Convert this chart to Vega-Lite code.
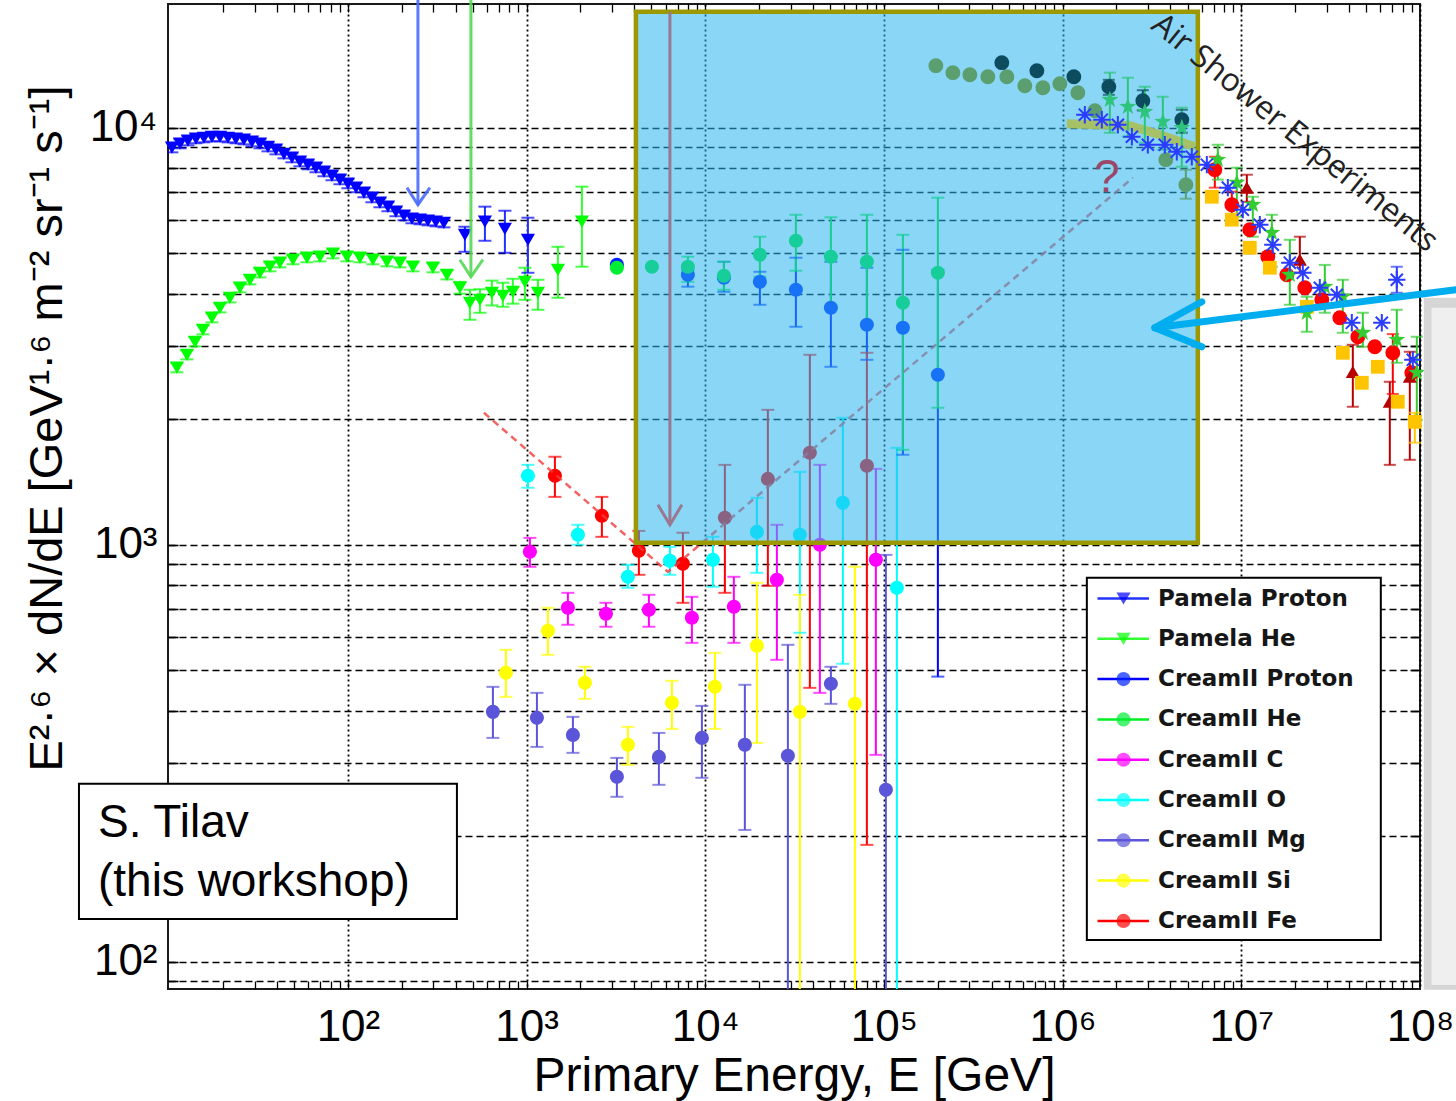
{
"$schema":"https://vega.github.io/schema/vega-lite/v6.json",
"width":1252,"height":985,
"autosize":{"type":"none"},
"padding":{"left":168,"top":4,"right":36,"bottom":112},
"background":"white",
"config":{"view":{"stroke":"#1a1a1a","strokeWidth":2},"font":"Liberation Sans","scale":{"continuousPadding":0}},
"resolve":{"axis":{"x":"independent","y":"independent"}},
"datasets":{
"main":[
{"s":"Pamela Proton","E":10.35,"F":8954,"lo":8730,"hi":9180},
{"s":"Pamela Proton","E":11.48,"F":9155,"lo":8926,"hi":9384},
{"s":"Pamela Proton","E":12.72,"F":9308,"lo":9075,"hi":9541},
{"s":"Pamela Proton","E":14.11,"F":9412,"lo":9177,"hi":9647},
{"s":"Pamela Proton","E":15.64,"F":9462,"lo":9225,"hi":9699},
{"s":"Pamela Proton","E":17.34,"F":9514,"lo":9276,"hi":9752},
{"s":"Pamela Proton","E":19.22,"F":9514,"lo":9276,"hi":9752},
{"s":"Pamela Proton","E":21.31,"F":9462,"lo":9225,"hi":9699},
{"s":"Pamela Proton","E":23.62,"F":9412,"lo":9177,"hi":9647},
{"s":"Pamela Proton","E":26.18,"F":9359,"lo":9125,"hi":9593},
{"s":"Pamela Proton","E":29.03,"F":9256,"lo":9025,"hi":9487},
{"s":"Pamela Proton","E":32.18,"F":9155,"lo":8926,"hi":9384},
{"s":"Pamela Proton","E":35.67,"F":9003,"lo":8778,"hi":9228},
{"s":"Pamela Proton","E":39.55,"F":8856,"lo":8635,"hi":9077},
{"s":"Pamela Proton","E":43.84,"F":8662,"lo":8445,"hi":8879},
{"s":"Pamela Proton","E":48.61,"F":8475,"lo":8263,"hi":8687},
{"s":"Pamela Proton","E":53.88,"F":8290,"lo":8083,"hi":8497},
{"s":"Pamela Proton","E":59.73,"F":8154,"lo":7950,"hi":8358},
{"s":"Pamela Proton","E":66.22,"F":8020,"lo":7820,"hi":8220},
{"s":"Pamela Proton","E":73.41,"F":7846,"lo":7650,"hi":8042},
{"s":"Pamela Proton","E":81.38,"F":7675,"lo":7483,"hi":7867},
{"s":"Pamela Proton","E":90.22,"F":7508,"lo":7320,"hi":7696},
{"s":"Pamela Proton","E":100,"F":7344,"lo":7160,"hi":7528},
{"s":"Pamela Proton","E":110.9,"F":7184,"lo":7004,"hi":7364},
{"s":"Pamela Proton","E":122.9,"F":6988,"lo":6813,"hi":7163},
{"s":"Pamela Proton","E":136.2,"F":6797,"lo":6627,"hi":6967},
{"s":"Pamela Proton","E":151.0,"F":6611,"lo":6446,"hi":6776},
{"s":"Pamela Proton","E":167.4,"F":6468,"lo":6306,"hi":6630},
{"s":"Pamela Proton","E":185.6,"F":6291,"lo":6134,"hi":6448},
{"s":"Pamela Proton","E":205.8,"F":6153,"lo":5999,"hi":6307},
{"s":"Pamela Proton","E":228.1,"F":6052,"lo":5901,"hi":6203},
{"s":"Pamela Proton","E":252.9,"F":6019,"lo":5869,"hi":6169},
{"s":"Pamela Proton","E":280.4,"F":5984,"lo":5834,"hi":6134},
{"s":"Pamela Proton","E":310.8,"F":5951,"lo":5802,"hi":6100},
{"s":"Pamela Proton","E":344.5,"F":5918,"lo":5770,"hi":6066},
{"s":"Pamela Proton","E":451.5,"F":5538,"lo":5042,"hi":5789},
{"s":"Pamela Proton","E":584.4,"F":5951,"lo":5358,"hi":6468},
{"s":"Pamela Proton","E":756.0,"F":5725,"lo":5014,"hi":6324},
{"s":"Pamela Proton","E":1017,"F":5387,"lo":4490,"hi":6085},
{"s":"Pamela He","E":11.04,"F":2658,"lo":2592,"hi":2724},
{"s":"Pamela He","E":12.56,"F":2855,"lo":2784,"hi":2926},
{"s":"Pamela He","E":13.93,"F":3068,"lo":2991,"hi":3145},
{"s":"Pamela He","E":15.44,"F":3278,"lo":3196,"hi":3360},
{"s":"Pamela He","E":17.34,"F":3503,"lo":3415,"hi":3591},
{"s":"Pamela He","E":19.22,"F":3701,"lo":3608,"hi":3794},
{"s":"Pamela He","E":21.86,"F":3911,"lo":3813,"hi":4009},
{"s":"Pamela He","E":24.87,"F":4134,"lo":4031,"hi":4237},
{"s":"Pamela He","E":28.29,"F":4320,"lo":4212,"hi":4428},
{"s":"Pamela He","E":32.18,"F":4490,"lo":4378,"hi":4602},
{"s":"Pamela He","E":36.60,"F":4642,"lo":4526,"hi":4758},
{"s":"Pamela He","E":41.64,"F":4746,"lo":4627,"hi":4865},
{"s":"Pamela He","E":49.24,"F":4826,"lo":4705,"hi":4947},
{"s":"Pamela He","E":58.97,"F":4879,"lo":4757,"hi":5001},
{"s":"Pamela He","E":69.72,"F":4906,"lo":4783,"hi":5029},
{"s":"Pamela He","E":82.43,"F":4988,"lo":4863,"hi":5113},
{"s":"Pamela He","E":98.72,"F":4906,"lo":4783,"hi":5029},
{"s":"Pamela He","E":116.7,"F":4879,"lo":4757,"hi":5001},
{"s":"Pamela He","E":138.0,"F":4826,"lo":4705,"hi":4947},
{"s":"Pamela He","E":165.2,"F":4772,"lo":4653,"hi":4891},
{"s":"Pamela He","E":195.4,"F":4746,"lo":4627,"hi":4865},
{"s":"Pamela He","E":231.1,"F":4642,"lo":4526,"hi":4758},
{"s":"Pamela He","E":299.0,"F":4617,"lo":4502,"hi":4732},
{"s":"Pamela He","E":358.1,"F":4440,"lo":4329,"hi":4551},
{"s":"Pamela He","E":423.5,"F":4134,"lo":4000,"hi":4270},
{"s":"Pamela He","E":481.7,"F":3804,"lo":3464,"hi":4088},
{"s":"Pamela He","E":548.0,"F":3868,"lo":3600,"hi":4100},
{"s":"Pamela He","E":639.4,"F":4021,"lo":3750,"hi":4300},
{"s":"Pamela He","E":736.8,"F":3955,"lo":3722,"hi":4249},
{"s":"Pamela He","E":838.0,"F":4043,"lo":3785,"hi":4344},
{"s":"Pamela He","E":978.3,"F":4272,"lo":3868,"hi":4617},
{"s":"Pamela He","E":1157,"F":4021,"lo":3661,"hi":4320},
{"s":"Pamela He","E":1497,"F":4564,"lo":3911,"hi":5183},
{"s":"Pamela He","E":2040,"F":5951,"lo":4642,"hi":7223},
{"s":"CreamII Proton","E":3201,"F":4694},
{"s":"CreamII Proton","E":7990,"F":4440,"lo":4158,"hi":4564},
{"s":"CreamII Proton","E":12710,"F":4368,"lo":4043,"hi":4772},
{"s":"CreamII Proton","E":20210,"F":4272,"lo":3763,"hi":4515},
{"s":"CreamII Proton","E":32140,"F":4088,"lo":3333,"hi":4879},
{"s":"CreamII Proton","E":50460,"F":3701,"lo":2672,"hi":4772},
{"s":"CreamII Proton","E":80230,"F":3370,"lo":2777,"hi":4617},
{"s":"CreamII Proton","E":127600,"F":3314,"lo":1644,"hi":5098},
{"s":"CreamII Proton","E":200300,"F":2557,"lo":483,"hi":4564},
{"s":"CreamII He","E":3201,"F":4617},
{"s":"CreamII He","E":5026,"F":4642},
{"s":"CreamII He","E":7990,"F":4642,"lo":4272,"hi":4906},
{"s":"CreamII He","E":12710,"F":4416,"lo":4088,"hi":4772},
{"s":"CreamII He","E":20210,"F":4960,"lo":4392,"hi":5479},
{"s":"CreamII He","E":32140,"F":5358,"lo":4541,"hi":6185},
{"s":"CreamII He","E":50460,"F":4906,"lo":3722,"hi":6100},
{"s":"CreamII He","E":80230,"F":4772,"lo":3370,"hi":6185},
{"s":"CreamII He","E":127600,"F":3804,"lo":1690,"hi":5538},
{"s":"CreamII He","E":200300,"F":4490,"lo":2131,"hi":6797},
{"s":"CreamII C","E":1043.5,"F":962.1,"lo":885.7,"hi":1039},
{"s":"CreamII C","E":1702,"F":706.3,"lo":643.1,"hi":767.2},
{"s":"CreamII C","E":2779,"F":683.3,"lo":636.1,"hi":726.0},
{"s":"CreamII C","E":4835,"F":698.5,"lo":636.1,"hi":758.8},
{"s":"CreamII C","E":8414,"F":668.4,"lo":582.1,"hi":750.5},
{"s":"CreamII C","E":14450,"F":710.2,"lo":582.1,"hi":838.1},
{"s":"CreamII C","E":25160,"F":824.3,"lo":530.0,"hi":1117},
{"s":"CreamII C","E":43780,"F":1000,"lo":441.6,"hi":1555},
{"s":"CreamII C","E":90090,"F":920.5,"lo":313.6,"hi":1521},
{"s":"CreamII O","E":1017,"F":1464,"lo":1370,"hi":1555},
{"s":"CreamII O","E":1937,"F":1057,"lo":1000,"hi":1117},
{"s":"CreamII O","E":3689,"F":838.1,"lo":788.7,"hi":895.5},
{"s":"CreamII O","E":6338,"F":915.5,"lo":847.4,"hi":989.0},
{"s":"CreamII O","E":11030,"F":920.5,"lo":793.1,"hi":1045},
{"s":"CreamII O","E":19440,"F":1074,"lo":856.8,"hi":1296},
{"s":"CreamII O","E":33840,"F":1057,"lo":615.4,"hi":1496},
{"s":"CreamII O","E":58880,"F":1261,"lo":518.4,"hi":2016},
{"s":"CreamII O","E":118100,"F":788.7,"lo":50,"hi":1708},
{"s":"CreamII Mg","E":647.7,"F":397.6,"lo":344.4,"hi":456.5},
{"s":"CreamII Mg","E":1142,"F":384.7,"lo":327.7,"hi":441.6},
{"s":"CreamII Mg","E":1816,"F":350.1,"lo":317.1,"hi":386.8},
{"s":"CreamII Mg","E":3201,"F":277.8,"lo":248.8,"hi":308.4},
{"s":"CreamII Mg","E":5500,"F":310.1,"lo":265.8,"hi":354.0},
{"s":"CreamII Mg","E":9572,"F":344.4,"lo":276.3,"hi":411.0},
{"s":"CreamII Mg","E":16650,"F":331.4,"lo":207.2,"hi":461.7},
{"s":"CreamII Mg","E":28990,"F":311.9,"lo":50,"hi":575.7},
{"s":"CreamII Mg","E":50460,"F":464.2,"lo":415.6,"hi":509.9},
{"s":"CreamII Mg","E":102500,"F":258.6,"lo":50,"hi":946},
{"s":"CreamII Si","E":766,"F":493.3,"lo":432.0,"hi":560.0},
{"s":"CreamII Si","E":1316,"F":622.2,"lo":544.7,"hi":706.3},
{"s":"CreamII Si","E":2120,"F":466.8,"lo":427.2,"hi":509.9},
{"s":"CreamII Si","E":3689,"F":331.4,"lo":296.8,"hi":366.1},
{"s":"CreamII Si","E":6504,"F":417.9,"lo":362.0,"hi":472.0},
{"s":"CreamII Si","E":11320,"F":456.5,"lo":362.0,"hi":550.8},
{"s":"CreamII Si","E":19440,"F":572.6,"lo":335.0,"hi":810.8},
{"s":"CreamII Si","E":33840,"F":397.6,"lo":50,"hi":758.8},
{"s":"CreamII Si","E":68740,"F":415.6,"lo":50,"hi":885.7},
{"s":"CreamII Fe","E":1440,"F":1464,"lo":1303,"hi":1626},
{"s":"CreamII Fe","E":2638,"F":1174,"lo":1045,"hi":1303},
{"s":"CreamII Fe","E":4250,"F":967.4,"lo":847.4,"hi":1080},
{"s":"CreamII Fe","E":7494,"F":900.4,"lo":726.0,"hi":1069},
{"s":"CreamII Fe","E":12870,"F":1161,"lo":767.2,"hi":1555},
{"s":"CreamII Fe","E":22400,"F":1439,"lo":797.5,"hi":2107},
{"s":"CreamII Fe","E":38480,"F":1662,"lo":454.0,"hi":2855},
{"s":"CreamII Fe","E":80230,"F":1547,"lo":190.8,"hi":2887}
],
"as":[
{"g":"gc","E":195150,"F":14085},{"g":"gc","E":243020,"F":13550},{"g":"gc","E":302460,"F":13400},
{"g":"gc","E":381440,"F":13253},{"g":"gc","E":487340,"F":13253},{"g":"gc","E":614330,"F":12610},
{"g":"gc","E":775000,"F":12470},{"g":"gc","E":964520,"F":12750},{"g":"gc","E":1216500,"F":12130},
{"g":"gc","E":1514800,"F":10985},{"g":"gc","E":3780500,"F":8382},{"g":"gc","E":4892100,"F":7304,"lo":6757,"hi":7932},
{"g":"dc","E":456680,"F":14320},{"g":"dc","E":717290,"F":13700},{"g":"dc","E":1155400,"F":13253},
{"g":"dc","E":1813400,"F":12540,"lo":11995,"hi":13030},{"g":"dc","E":2810700,"F":11607,"lo":11000,"hi":12300},
{"g":"dc","E":4645000,"F":10452,"lo":9727,"hi":11045},
{"g":"gs","E":1838000,"F":11670,"lo":9727,"hi":13550},{"g":"gs","E":2317000,"F":11230,"lo":9514,"hi":13180},
{"g":"gs","E":2884000,"F":10925,"lo":9204,"hi":12540},{"g":"gs","E":3637000,"F":10337,"lo":8856,"hi":11865},
{"g":"gs","E":4645000,"F":10000,"lo":8064,"hi":11170},
{"g":"gs2","E":7387000,"F":8382,"lo":7508,"hi":9103},{"g":"gs2","E":9437000,"F":7385,"lo":6118,"hi":8020},
{"g":"gs2","E":11597000,"F":6537,"lo":5479,"hi":6832},{"g":"gs2","E":14816000,"F":5601,"lo":4642,"hi":6185},
{"g":"gs2","E":18682000,"F":4440,"lo":3763,"hi":5387},{"g":"gs2","E":23258000,"F":3601,"lo":3242,"hi":3933},
{"g":"gs2","E":29330000,"F":4158,"lo":3601,"hi":4690},{"g":"gs2","E":36983000,"F":3933,"lo":3224,"hi":4320},
{"g":"gs2","E":47856000,"F":3224,"lo":2984,"hi":3601},{"g":"gs2","E":74162000,"F":3102,"lo":2732,"hi":3661},
{"g":"gs2","E":95978000,"F":2585,"lo":1994,"hi":3154},
{"g":"ba","E":1331000,"F":10745},{"g":"ba","E":1657000,"F":10452},{"g":"ba","E":2037000,"F":10167},
{"g":"ba","E":2440000,"F":9514},{"g":"ba","E":2998000,"F":9103},{"g":"ba","E":3732000,"F":9103},
{"g":"ba","E":4355000,"F":8759},{"g":"ba","E":5284000,"F":8521},{"g":"ba","E":6412000,"F":8154},
{"g":"ba","E":8404000,"F":7184},{"g":"ba","E":10195000,"F":6360},{"g":"ba","E":12692000,"F":5853},
{"g":"ba","E":15008000,"F":5241},{"g":"ba","E":18682000,"F":4746},{"g":"ba","E":22091000,"F":4490},
{"g":"ba","E":27497000,"F":4134},{"g":"ba","E":34230000,"F":3977},{"g":"ba","E":41535000,"F":3407},
{"g":"ba","E":61129000,"F":3407},{"g":"ba","E":74162000,"F":4320,"lo":4021,"hi":4642},{"g":"ba","E":91154000,"F":2777},
{"g":"rc","E":7107000,"F":7932,"lo":7184,"hi":8521},{"g":"rc","E":8848000,"F":6537,"lo":6118,"hi":7026},
{"g":"rc","E":11158000,"F":5694},{"g":"rc","E":14071000,"F":4906},{"g":"rc","E":17972000,"F":4440},
{"g":"rc","E":22667000,"F":4134},{"g":"rc","E":28216000,"F":3868},{"g":"rc","E":35580000,"F":3503},
{"g":"rc","E":44875000,"F":3154},{"g":"rc","E":55865000,"F":2984},{"g":"rc","E":70434000,"F":2887,"lo":2300,"hi":3200},
{"g":"rc","E":89985000,"F":2585},
{"g":"rt","E":10735000,"F":7184,"lo":6646,"hi":7715},{"g":"rt","E":21254000,"F":4826,"lo":4490,"hi":5479},
{"g":"rt","E":42073000,"F":2599,"lo":2143,"hi":3017},{"g":"rt","E":67764000,"F":2203,"lo":1555,"hi":2460},
{"g":"rt","E":87696000,"F":2529,"lo":1599,"hi":2903},
{"g":"gq","E":6838000,"F":6832},{"g":"gq","E":8848000,"F":6019},{"g":"gq","E":11158000,"F":5155},
{"g":"gq","E":14439000,"F":4617},{"g":"gq","E":23258000,"F":3722},{"g":"gq","E":36983000,"F":2887},
{"g":"gq","E":47243000,"F":2446},{"g":"gq","E":58070000,"F":2672},{"g":"gq","E":75124000,"F":2203},
{"g":"gq","E":93535000,"F":1972,"lo":1757,"hi":2073}
],
"band":[{"E":1056000,"F":10224},{"E":2377600,"F":10111},{"E":3499500,"F":9620},{"E":5492500,"F":9003}],
"lines":[
{"k":"fit","i":0,"E":576.8,"F":2073},{"k":"fit","i":1,"E":6176,"F":861.6},{"k":"fit","i":2,"E":2471000,"F":7587},
{"k":"fe_shaft","i":0,"E":6338,"F":18975},{"k":"fe_shaft","i":1,"E":6338,"F":1117},
{"k":"fe_head","i":0,"E":5430,"F":1247},{"k":"fe_head","i":1,"E":6338,"F":1117},{"k":"fe_head","i":2,"E":7397,"F":1247},
{"k":"p_shaft","i":0,"E":246.5,"F":20280},{"k":"p_shaft","i":1,"E":246.5,"F":6537},
{"k":"p_head","i":0,"E":213.9,"F":7184},{"k":"p_head","i":1,"E":246.5,"F":6537},{"k":"p_head","i":2,"E":287.6,"F":7184},
{"k":"h_shaft","i":0,"E":487.9,"F":20280},{"k":"h_shaft","i":1,"E":487.9,"F":4392},
{"k":"h_head","i":0,"E":423.3,"F":4826},{"k":"h_head","i":1,"E":487.9,"F":4392},{"k":"h_head","i":2,"E":569.4,"F":4826},
{"k":"c_shaft","i":0,"E":158600000,"F":4088},{"k":"c_shaft","i":1,"E":3280000,"F":3314},
{"k":"c_head","i":0,"E":6010000,"F":3825},{"k":"c_head","i":1,"E":3280000,"F":3314},{"k":"c_head","i":2,"E":6010000,"F":2984}
],
"rects":[
{"k":"box","E":4090,"E2":5710000,"F":1011,"F2":18975},
{"k":"panel1","E":105000000,"E2":170000000,"F":85.7,"F2":3910},
{"k":"panel2","E":116000000,"E2":170000000,"F":88,"F2":3700},
{"k":"tilav","E":3.124,"E2":407.4,"F":126.8,"F2":267.3},
{"k":"legbox","E":1366000,"E2":60350000,"F":112.9,"F2":833.7}
],
"notes":[
{"k":"q","E":1768000,"F":7587,"t":"?"},
{"k":"air","E":19930000,"F":9725,"t":"Air Shower Experiments"},
{"k":"tilav","E":3.99,"F":215.4,"t":"S. Tilav\n(this workshop)"}
]
},
"layer":[
{"data":{"name":"main"},"transform":[{"filter":"isValid(datum.lo)"}],
 "mark":{"type":"rule","strokeWidth":2,"clip":true},
 "encoding":{
  "x":{"field":"E","type":"quantitative","scale":{"type":"log","domain":[9.84,100000000],"nice":false},
   "axis":{"orient":"bottom","values":[100,1000,10000,100000,1000000,10000000,100000000],
    "grid":true,"gridColor":"#000","gridDash":[2,3],"gridWidth":1.8,"gridOpacity":1,
    "ticks":false,"domain":false,"labelFlush":false,"labelOverlap":false,
    "labelExpr":"'10' + ['⁰','¹','²','³','⁴','⁵','⁶','⁷','⁸'][round(log(datum.value)/LN10)]",
    "labelFont":"Liberation Sans","labelFontSize":44,"labelColor":"#000","labelPadding":16,
    "title":"Primary Energy, E [GeV]","titleFont":"Liberation Sans","titleFontSize":48,"titleFontWeight":"normal","titleColor":"#000","titleY":101,"titleBaseline":"alphabetic"}},
  "y":{"field":"lo","type":"quantitative","scale":{"type":"log","domain":[86.1,19800],"nice":false},
   "axis":{"orient":"left","values":[90,100,200,300,400,500,600,700,800,900,1000,2000,3000,4000,5000,6000,7000,8000,9000,10000],
    "grid":true,"gridColor":"#000","gridDash":[7,4],"gridWidth":1.6,"gridOpacity":1,"ticks":false,"domain":false,
    "labelFlush":false,"labelOverlap":false,
    "labelExpr":"datum.value == 100 ? '10²' : datum.value == 1000 ? '10³' : datum.value == 10000 ? '10⁴' : ''",
    "labelFont":"Liberation Sans","labelFontSize":44,"labelColor":"#000","labelPadding":11,
    "title":"E²·⁶ × dN/dE [GeV¹·⁶ m⁻² sr⁻¹ s⁻¹]","titleFont":"Liberation Sans","titleFontSize":47,"titleFontWeight":"normal","titleColor":"#000",
    "titleX":-121,"titleY":424,"titleBaseline":"middle","titleAngle":-90}},
  "y2":{"field":"hi"},
  "stroke":{"field":"s","type":"nominal","scale":{"domain":["Pamela Proton","Pamela He","CreamII Proton","CreamII He","CreamII C","CreamII O","CreamII Mg","CreamII Si","CreamII Fe","zz"],"range":["#2233ff","#33ff33","#0000ff","#00ee22","#ff00ff","#00ffff","#5b55d9","#ffff00","#ff0000","transparent"]},
   "legend":{"orient":"none","legendX":915,"legendY":575,"title":null,"padding":8,"symbolType":"M-0.71,0L6.57,0","symbolSize":200,"symbolStrokeWidth":2.5,"symbolOpacity":1,
    "labelLimit":400,"labelFont":"DejaVu Sans","labelFontWeight":"bold","labelFontSize":23,"labelColor":"#161616","labelOffset":44,"rowPadding":16.3,
    "labelExpr":"datum.label == 'zz' ? '' : datum.label"}}
 }},
{"data":{"name":"main"},"transform":[{"filter":"isValid(datum.lo)"}],
 "mark":{"type":"tick","orient":"horizontal","size":13,"thickness":2,"clip":true},
 "encoding":{
  "x":{"field":"E","type":"quantitative","scale":{"type":"log","domain":[9.84,100000000],"nice":false},
   "axis":{"orient":"bottom","values":[20,30,40,50,60,70,80,90,100,200,300,400,500,600,700,800,900,1000,2000,3000,4000,5000,6000,7000,8000,9000,10000,20000,30000,40000,50000,60000,70000,80000,90000,100000,200000,300000,400000,500000,600000,700000,800000,900000,1000000,2000000,3000000,4000000,5000000,6000000,7000000,8000000,9000000,10000000,20000000,30000000,40000000,50000000,60000000,70000000,80000000,90000000],
    "ticks":true,"tickSize":8,"tickColor":"#000","tickWidth":1.3,"labels":false,"domain":false,"grid":false,"offset":-8,"title":null}},
  "y":{"field":"lo","type":"quantitative","scale":{"type":"log","domain":[86.1,19800],"nice":false},
   "axis":{"orient":"left","values":[90,100,200,300,400,500,600,700,800,900,1000,2000,3000,4000,5000,6000,7000,8000,9000,10000],
    "ticks":true,"tickSize":10,"tickColor":"#000","tickWidth":1.6,"labels":false,"domain":false,"grid":false,"offset":-10,"title":null}},
  "color":{"field":"s","type":"nominal","scale":{"domain":["Pamela Proton","Pamela He","CreamII Proton","CreamII He","CreamII C","CreamII O","CreamII Mg","CreamII Si","CreamII Fe"],"range":["#0000ff","#00ff00","#0022ff","#00ee33","#ff00ff","#00ffff","#5b55d9","#ffff00","#ff0000"]}}
 }},
{"data":{"name":"main"},"transform":[{"filter":"isValid(datum.hi)"}],
 "mark":{"type":"tick","orient":"horizontal","size":13,"thickness":2,"clip":true},
 "encoding":{
  "x":{"field":"E","type":"quantitative","scale":{"type":"log","domain":[9.84,100000000],"nice":false},"axis":null},
  "y":{"field":"hi","type":"quantitative","scale":{"type":"log","domain":[86.1,19800],"nice":false},"axis":null},
  "color":{"field":"s","type":"nominal","scale":{"domain":["Pamela Proton","Pamela He","CreamII Proton","CreamII He","CreamII C","CreamII O","CreamII Mg","CreamII Si","CreamII Fe"],"range":["#0000ff","#00ff00","#0022ff","#00ee33","#ff00ff","#00ffff","#5b55d9","#ffff00","#ff0000"]}}
 }},
{"data":{"name":"main"},
 "mark":{"type":"point","filled":true,"opacity":1,"size":200},
 "encoding":{
  "x":{"field":"E","type":"quantitative","scale":{"type":"log","domain":[9.84,100000000],"nice":false},
   "axis":{"orient":"top","values":[20,30,40,50,60,70,80,90,100,200,300,400,500,600,700,800,900,1000,2000,3000,4000,5000,6000,7000,8000,9000,10000,20000,30000,40000,50000,60000,70000,80000,90000,100000,200000,300000,400000,500000,600000,700000,800000,900000,1000000,2000000,3000000,4000000,5000000,6000000,7000000,8000000,9000000,10000000,20000000,30000000,40000000,50000000,60000000,70000000,80000000,90000000],
    "ticks":true,"tickSize":8,"tickColor":"#000","tickWidth":1.3,"labels":false,"domain":false,"grid":false,"offset":-8,"title":null}},
  "y":{"field":"F","type":"quantitative","scale":{"type":"log","domain":[86.1,19800],"nice":false},
   "axis":{"orient":"right","values":[90,100,200,300,400,500,600,700,800,900,1000,2000,3000,4000,5000,6000,7000,8000,9000,10000],
    "ticks":true,"tickSize":10,"tickColor":"#000","tickWidth":1.6,"labels":false,"domain":false,"grid":false,"offset":-10,"title":null}},
  "color":{"field":"s","type":"nominal","scale":{"domain":["Pamela Proton","Pamela He","CreamII Proton","CreamII He","CreamII C","CreamII O","CreamII Mg","CreamII Si","CreamII Fe"],"range":["#0000ff","#00ff00","#0022ff","#00ee33","#ff00ff","#00ffff","#5b55d9","#ffff00","#ff0000"]},
   "legend":{"orient":"none","legendX":915,"legendY":575,"title":null,"padding":8,"symbolSize":200,"symbolOpacity":1,"symbolOffset":21,"symbolStrokeWidth":0,
    "labelLimit":400,"labelFont":"DejaVu Sans","labelFontWeight":"bold","labelFontSize":23,"labelOpacity":0,"labelOffset":44,"rowPadding":16.3,
    "labelExpr":"''"}},
  "shape":{"field":"s","type":"nominal","scale":{"domain":["Pamela Proton","Pamela He","CreamII Proton","CreamII He","CreamII C","CreamII O","CreamII Mg","CreamII Si","CreamII Fe"],"range":["triangle-down","triangle-down","circle","circle","circle","circle","circle","circle","circle"]}}
 }},
{"data":{"name":"lines"},"transform":[{"filter":"datum.k == 'fit'"}],
 "mark":{"type":"line","color":"#f03c3c","strokeWidth":2.5,"strokeDash":[7,5],"opacity":0.8},
 "encoding":{"x":{"field":"E","type":"quantitative","scale":{"type":"log","domain":[9.84,100000000],"nice":false},"axis":null},
  "y":{"field":"F","type":"quantitative","scale":{"type":"log","domain":[86.1,19800],"nice":false},"axis":null},
  "order":{"field":"i"}}},
{"data":{"name":"rects"},"transform":[{"filter":"datum.k == 'box'"}],
 "mark":{"type":"rect","fill":"#29b5ee","fillOpacity":0.55,"stroke":"#9c9800","strokeWidth":4.5},
 "encoding":{"x":{"field":"E","type":"quantitative","scale":{"type":"log","domain":[9.84,100000000],"nice":false},"axis":null},"x2":{"field":"E2"},
  "y":{"field":"F","type":"quantitative","scale":{"type":"log","domain":[86.1,19800],"nice":false},"axis":null},"y2":{"field":"F2"}}},
{"data":{"name":"lines"},"transform":[{"filter":"datum.k == 'fe_shaft' || datum.k == 'fe_head'"}],
 "mark":{"type":"line","color":"#9a7890","strokeWidth":3},
 "encoding":{"x":{"field":"E","type":"quantitative","scale":{"type":"log","domain":[9.84,100000000],"nice":false},"axis":null},
  "y":{"field":"F","type":"quantitative","scale":{"type":"log","domain":[86.1,19800],"nice":false},"axis":null},
  "detail":{"field":"k"},"order":{"field":"i"}}},
{"data":{"name":"notes"},"transform":[{"filter":"datum.k == 'q'"}],
 "mark":{"type":"text","font":"Liberation Sans","fontSize":46,"color":"#9b4768","align":"center","baseline":"middle"},
 "encoding":{"x":{"field":"E","type":"quantitative","scale":{"type":"log","domain":[9.84,100000000],"nice":false},"axis":null},
  "y":{"field":"F","type":"quantitative","scale":{"type":"log","domain":[86.1,19800],"nice":false},"axis":null},
  "text":{"field":"t"}}},
{"data":{"name":"band"},
 "mark":{"type":"line","color":"#a8c060","strokeWidth":9,"opacity":0.95},
 "encoding":{"x":{"field":"E","type":"quantitative","scale":{"type":"log","domain":[9.84,100000000],"nice":false},"axis":null},
  "y":{"field":"F","type":"quantitative","scale":{"type":"log","domain":[86.1,19800],"nice":false},"axis":null}}},
{"data":{"name":"as"},"transform":[{"filter":"isValid(datum.lo)"}],
 "mark":{"type":"bar","size":2,"orient":"vertical"},
 "encoding":{"x":{"field":"E","type":"quantitative","scale":{"type":"log","domain":[9.84,100000000],"nice":false},"axis":null},
  "y":{"field":"lo","type":"quantitative","scale":{"type":"log","domain":[86.1,19800],"nice":false},"axis":null},"y2":{"field":"hi"},
  "fill":{"field":"g","type":"nominal","scale":{"domain":["gc","dc","gs","gs2","ba","rc","rt","gq"],"range":["#5b9e6f","#0d4b5f","#2ec47c","#33cc33","#2a3cff","#ff0000","#b80000","#ffc400"]},"legend":null}}},
{"data":{"name":"as"},"transform":[{"filter":"isValid(datum.lo)"}],
 "mark":{"type":"tick","orient":"horizontal","size":12,"thickness":2},
 "encoding":{"x":{"field":"E","type":"quantitative","scale":{"type":"log","domain":[9.84,100000000],"nice":false},"axis":null},
  "y":{"field":"lo","type":"quantitative","scale":{"type":"log","domain":[86.1,19800],"nice":false},"axis":null},
  "fill":{"field":"g","type":"nominal","scale":{"domain":["gc","dc","gs","gs2","ba","rc","rt","gq"],"range":["#5b9e6f","#0d4b5f","#2ec47c","#33cc33","#2a3cff","#ff0000","#b80000","#ffc400"]},"legend":null}}},
{"data":{"name":"as"},"transform":[{"filter":"isValid(datum.hi)"}],
 "mark":{"type":"tick","orient":"horizontal","size":12,"thickness":2},
 "encoding":{"x":{"field":"E","type":"quantitative","scale":{"type":"log","domain":[9.84,100000000],"nice":false},"axis":null},
  "y":{"field":"hi","type":"quantitative","scale":{"type":"log","domain":[86.1,19800],"nice":false},"axis":null},
  "fill":{"field":"g","type":"nominal","scale":{"domain":["gc","dc","gs","gs2","ba","rc","rt","gq"],"range":["#5b9e6f","#0d4b5f","#2ec47c","#33cc33","#2a3cff","#ff0000","#b80000","#ffc400"]},"legend":null}}},
{"data":{"name":"as"},"transform":[{"filter":"datum.g == 'gc' || datum.g == 'dc' || datum.g == 'rc'"}],
 "mark":{"type":"point","filled":true,"opacity":1,"shape":"circle","size":220},
 "encoding":{"x":{"field":"E","type":"quantitative","scale":{"type":"log","domain":[9.84,100000000],"nice":false},"axis":null},
  "y":{"field":"F","type":"quantitative","scale":{"type":"log","domain":[86.1,19800],"nice":false},"axis":null},
  "fill":{"field":"g","type":"nominal","scale":{"domain":["gc","dc","gs","gs2","ba","rc","rt","gq"],"range":["#5b9e6f","#0d4b5f","#2ec47c","#33cc33","#2a3cff","#ff0000","#b80000","#ffc400"]},"legend":null}}},
{"data":{"name":"as"},"transform":[{"filter":"datum.g == 'rt'"}],
 "mark":{"type":"point","filled":true,"opacity":1,"shape":"triangle-up","size":200},
 "encoding":{"x":{"field":"E","type":"quantitative","scale":{"type":"log","domain":[9.84,100000000],"nice":false},"axis":null},
  "y":{"field":"F","type":"quantitative","scale":{"type":"log","domain":[86.1,19800],"nice":false},"axis":null},
  "fill":{"field":"g","type":"nominal","scale":{"domain":["gc","dc","gs","gs2","ba","rc","rt","gq"],"range":["#5b9e6f","#0d4b5f","#2ec47c","#33cc33","#2a3cff","#ff0000","#b80000","#ffc400"]},"legend":null}}},
{"data":{"name":"as"},"transform":[{"filter":"datum.g == 'gq'"}],
 "mark":{"type":"point","filled":true,"opacity":1,"shape":"square","size":190},
 "encoding":{"x":{"field":"E","type":"quantitative","scale":{"type":"log","domain":[9.84,100000000],"nice":false},"axis":null},
  "y":{"field":"F","type":"quantitative","scale":{"type":"log","domain":[86.1,19800],"nice":false},"axis":null},
  "fill":{"field":"g","type":"nominal","scale":{"domain":["gc","dc","gs","gs2","ba","rc","rt","gq"],"range":["#5b9e6f","#0d4b5f","#2ec47c","#33cc33","#2a3cff","#ff0000","#b80000","#ffc400"]},"legend":null}}},
{"data":{"name":"as"},"transform":[{"filter":"datum.g == 'gs' || datum.g == 'gs2'"}],
 "mark":{"type":"point","filled":true,"opacity":1,"shape":"M0,-1L0.24,-0.33L0.95,-0.31L0.38,0.12L0.59,0.81L0,0.4L-0.59,0.81L-0.38,0.12L-0.95,-0.31L-0.24,-0.33Z","size":320},
 "encoding":{"x":{"field":"E","type":"quantitative","scale":{"type":"log","domain":[9.84,100000000],"nice":false},"axis":null},
  "y":{"field":"F","type":"quantitative","scale":{"type":"log","domain":[86.1,19800],"nice":false},"axis":null},
  "fill":{"field":"g","type":"nominal","scale":{"domain":["gc","dc","gs","gs2","ba","rc","rt","gq"],"range":["#5b9e6f","#0d4b5f","#2ec47c","#33cc33","#2a3cff","#ff0000","#b80000","#ffc400"]},"legend":null}}},
{"data":{"name":"as"},"transform":[{"filter":"datum.g == 'ba'"}],
 "mark":{"type":"point","filled":false,"opacity":1,"strokeWidth":2,"color":"#2a3cff","shape":"M-1,0L1,0M0,-1L0,1M-0.7,-0.7L0.7,0.7M-0.7,0.7L0.7,-0.7","size":300},
 "encoding":{"x":{"field":"E","type":"quantitative","scale":{"type":"log","domain":[9.84,100000000],"nice":false},"axis":null},
  "y":{"field":"F","type":"quantitative","scale":{"type":"log","domain":[86.1,19800],"nice":false},"axis":null}}},
{"data":{"name":"lines"},"transform":[{"filter":"datum.k == 'p_shaft' || datum.k == 'p_head'"}],
 "mark":{"type":"line","color":"#4a6cff","strokeWidth":3,"opacity":0.9},
 "encoding":{"x":{"field":"E","type":"quantitative","scale":{"type":"log","domain":[9.84,100000000],"nice":false},"axis":null},
  "y":{"field":"F","type":"quantitative","scale":{"type":"log","domain":[86.1,19800],"nice":false},"axis":null},
  "detail":{"field":"k"},"order":{"field":"i"}}},
{"data":{"name":"lines"},"transform":[{"filter":"datum.k == 'h_shaft' || datum.k == 'h_head'"}],
 "mark":{"type":"line","color":"#55d855","strokeWidth":3,"opacity":0.9},
 "encoding":{"x":{"field":"E","type":"quantitative","scale":{"type":"log","domain":[9.84,100000000],"nice":false},"axis":null},
  "y":{"field":"F","type":"quantitative","scale":{"type":"log","domain":[86.1,19800],"nice":false},"axis":null},
  "detail":{"field":"k"},"order":{"field":"i"}}},
{"data":{"name":"notes"},"transform":[{"filter":"datum.k == 'air'"}],
 "mark":{"type":"text","font":"Open Sans","fontSize":32,"color":"#222222","align":"center","baseline":"middle","angle":39},
 "encoding":{"x":{"field":"E","type":"quantitative","scale":{"type":"log","domain":[9.84,100000000],"nice":false},"axis":null},
  "y":{"field":"F","type":"quantitative","scale":{"type":"log","domain":[86.1,19800],"nice":false},"axis":null},
  "text":{"field":"t"}}},
{"data":{"name":"rects"},"transform":[{"filter":"datum.k == 'panel1'"}],
 "mark":{"type":"rect","fill":"#d6d6d6"},
 "encoding":{"x":{"field":"E","type":"quantitative","scale":{"type":"log","domain":[9.84,100000000],"nice":false},"axis":null},"x2":{"field":"E2"},
  "y":{"field":"F","type":"quantitative","scale":{"type":"log","domain":[86.1,19800],"nice":false},"axis":null},"y2":{"field":"F2"}}},
{"data":{"name":"rects"},"transform":[{"filter":"datum.k == 'panel2'"}],
 "mark":{"type":"rect","fill":"#efefef"},
 "encoding":{"x":{"field":"E","type":"quantitative","scale":{"type":"log","domain":[9.84,100000000],"nice":false},"axis":null},"x2":{"field":"E2"},
  "y":{"field":"F","type":"quantitative","scale":{"type":"log","domain":[86.1,19800],"nice":false},"axis":null},"y2":{"field":"F2"}}},
{"data":{"name":"lines"},"transform":[{"filter":"datum.k == 'c_shaft' || datum.k == 'c_head'"}],
 "mark":{"type":"line","color":"#00aeef","strokeWidth":7,"strokeCap":"round","strokeJoin":"round"},
 "encoding":{"x":{"field":"E","type":"quantitative","scale":{"type":"log","domain":[9.84,100000000],"nice":false},"axis":null},
  "y":{"field":"F","type":"quantitative","scale":{"type":"log","domain":[86.1,19800],"nice":false},"axis":null},
  "detail":{"field":"k"},"order":{"field":"i"}}},
{"data":{"name":"rects"},"transform":[{"filter":"datum.k == 'tilav' || datum.k == 'legbox'"}],
 "mark":{"type":"rect","fill":"#ffffff","stroke":"#000000","strokeWidth":2},
 "encoding":{"x":{"field":"E","type":"quantitative","scale":{"type":"log","domain":[9.84,100000000],"nice":false},"axis":null},"x2":{"field":"E2"},
  "y":{"field":"F","type":"quantitative","scale":{"type":"log","domain":[86.1,19800],"nice":false},"axis":null},"y2":{"field":"F2"}}},
{"data":{"name":"notes"},"transform":[{"filter":"datum.k == 'tilav'"}],
 "mark":{"type":"text","font":"Liberation Sans","fontSize":46,"color":"#000000","align":"left","baseline":"middle","lineBreak":"\n","lineHeight":59},
 "encoding":{"x":{"field":"E","type":"quantitative","scale":{"type":"log","domain":[9.84,100000000],"nice":false},"axis":null},
  "y":{"field":"F","type":"quantitative","scale":{"type":"log","domain":[86.1,19800],"nice":false},"axis":null},
  "text":{"field":"t"}}}
]
}
